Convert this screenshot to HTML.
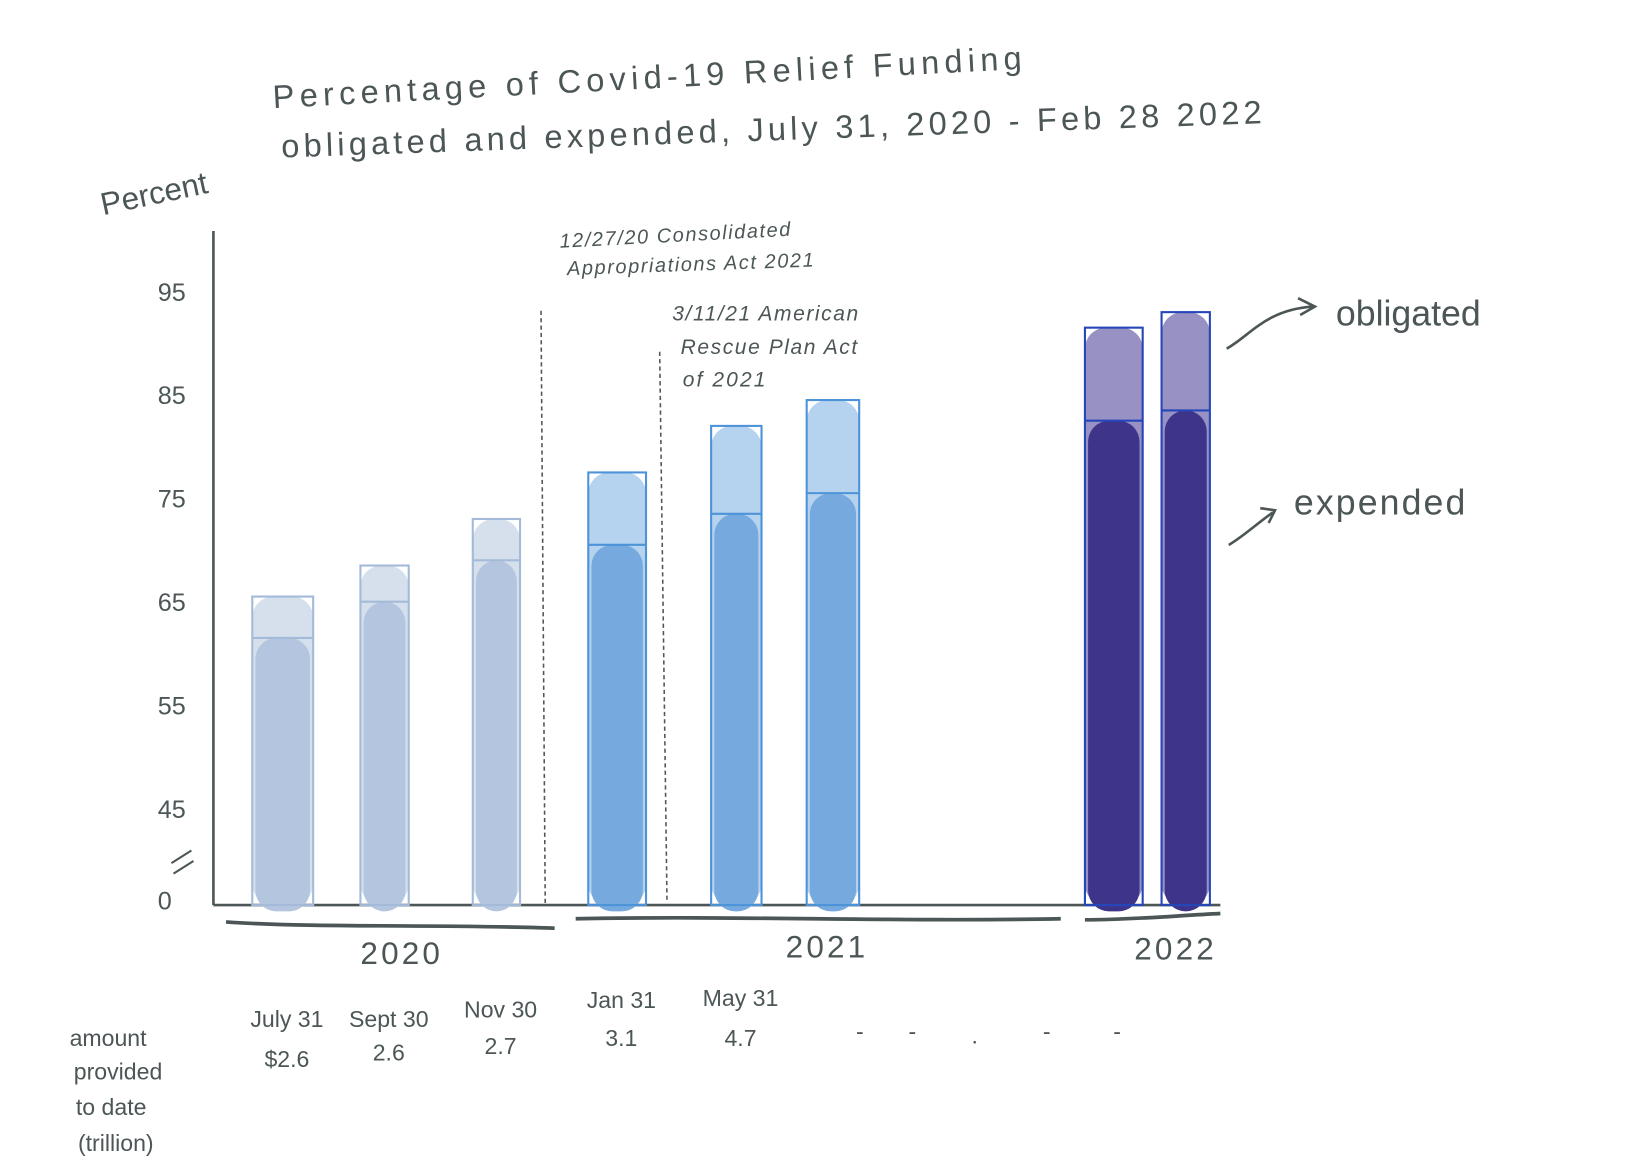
<!DOCTYPE html>
<html><head><meta charset="utf-8"><style>
html,body{margin:0;padding:0;background:#fff;}
svg{display:block;}
text{font-family:"Liberation Sans",sans-serif;fill:#4c5656;}
</style></head><body>
<svg id="chart" width="1648" height="1176" viewBox="0 0 1569 1120" xmlns="http://www.w3.org/2000/svg">
<g>
<text x="260" y="103" font-size="31" transform="rotate(-3 260 103)" letter-spacing="5">Percentage of Covid-19 Relief Funding</text>
<text x="268" y="150" font-size="31" transform="rotate(-2 268 150)" letter-spacing="4">obligated and expended, July 31, 2020 - Feb 28 2022</text>
</g>
<text x="98" y="205" font-size="30" transform="rotate(-12 98 205)">Percent</text>
<g id="yaxis"></g>
<g id="bars"></g>
<g>
<line x1="515" y1="296" x2="519" y2="860" stroke="#555" stroke-width="1.5" stroke-dasharray="4,3"/>
<line x1="628" y1="335" x2="635" y2="860" stroke="#555" stroke-width="1.5" stroke-dasharray="4,3"/>
<text x="533" y="236" font-size="19" transform="rotate(-3 533 236)" font-style="italic" letter-spacing="1.5">12/27/20 Consolidated</text>
<text x="540" y="262" font-size="19" transform="rotate(-2 540 262)" font-style="italic" letter-spacing="1.5">Appropriations Act  2021</text>
<text x="640" y="305" font-size="20" font-style="italic" letter-spacing="1.5">3/11/21 American</text>
<text x="648" y="337" font-size="20" font-style="italic" letter-spacing="1.5">Rescue Plan Act</text>
<text x="650" y="368" font-size="20" font-style="italic" letter-spacing="2">of 2021</text>
<path d="M1168,332 C1190,320 1205,295 1250,292" fill="none" stroke="#4c5656" stroke-width="2.5"/>
<path d="M1236,284 L1252,292 L1238,300" fill="none" stroke="#4c5656" stroke-width="2.5"/>
<text x="1272" y="310" font-size="34">obligated</text>
<path d="M1170,519 C1185,510 1195,500 1212,488" fill="none" stroke="#4c5656" stroke-width="2.5"/>
<path d="M1200,484 L1214,486 L1208,498" fill="none" stroke="#4c5656" stroke-width="2.5"/>
<text x="1232" y="490" font-size="34" letter-spacing="2">expended</text>
</g>
<g>
<path d="M215,878 C300,884 420,880 528,884" stroke="#4c5656" stroke-width="3.5" fill="none"/>
<path d="M548,875 C700,872 850,878 1010,875" stroke="#4c5656" stroke-width="3.5" fill="none"/>
<path d="M1033,876 C1080,876 1120,872 1162,870" stroke="#4c5656" stroke-width="3.5" fill="none"/>
<text x="343" y="918" font-size="30" letter-spacing="3">2020</text>
<text x="748" y="912" font-size="30" letter-spacing="3">2021</text>
<text x="1080" y="914" font-size="30" letter-spacing="3">2022</text>
</g>
<g id="amounts">
<text x="66" y="996" font-size="22">amount</text>
<text x="70" y="1028" font-size="22">provided</text>
<text x="72" y="1062" font-size="22">to date</text>
<text x="74" y="1096" font-size="22">(trillion)</text>
<text x="815" y="990" font-size="22">-</text>
<text x="865" y="990" font-size="22">-</text>
<text x="925" y="994" font-size="22">.</text>
<text x="993" y="990" font-size="22">-</text>
<text x="1060" y="990" font-size="22">-</text>
</g>
<script>
const categories=["July 31","Sept 30","Nov 30","Jan 31","May 31","","",""];
const amounts=["$2.6","2.6","2.7","3.1","4.7","","",""];
const obligated=[66,69,73.5,78,82.5,85,92,93.5];
const expended=[62,65.5,69.5,71,74,76,83,84];
const yTicks=[0,45,55,65,75,85,95];
const NS="http://www.w3.org/2000/svg";
const X0=[240,343,450,560,677,768,1033,1106], W=[58,46,45,55,48,50,55,46];
const groups=[0,0,0,1,1,1,2,2];
const pal=[{exp:"#b4c6df",obl:"#d6e0ec",line:"#a3bad8"},{exp:"#76aade",obl:"#b5d2ee",line:"#4d93d9"},{exp:"#3e358b",obl:"#9891c4",line:"#2546b8"}];
function y(v){return v<=0?862:775-(v-45)*9.85;}
function mk(tag,attrs,parent){const e=document.createElementNS(NS,tag);for(const k in attrs)e.setAttribute(k,attrs[k]);parent.appendChild(e);return e;}
const ya=document.getElementById('yaxis');
mk('line',{x1:203,y1:220,x2:203,y2:862,stroke:'#4c5656','stroke-width':2.5},ya);
mk('line',{x1:203,y1:862,x2:1162,y2:862,stroke:'#4c5656','stroke-width':2.5},ya);
mk('path',{d:'M163,822 L182,810 M165,832 L184,820',stroke:'#4c5656','stroke-width':2,fill:'none'},ya);
yTicks.forEach(t=>{const tx=mk('text',{x:150,y:y(t)+4,'font-size':24},ya);tx.textContent=t;

});
const bg=document.getElementById('bars');
obligated.forEach((o,i)=>{const p=pal[groups[i]],x=X0[i],w=W[i];
const g=mk('g',{},bg);


const r1=mk('rect',{x:x,y:y(o),width:w,height:y(0)-y(o),fill:p.obl,rx:Math.min(w/2,20)},g);


const r2=mk('rect',{x:x+3,y:y(expended[i]),width:w-6,height:y(0)-y(expended[i])+6,fill:p.exp,rx:Math.min(w/2,20)},g);


mk('rect',{x:x,y:y(o),width:w,height:y(0)-y(o),fill:'none',stroke:p.line,'stroke-width':2},g);
mk('line',{x1:x,y1:y(expended[i]),x2:x+w,y2:y(expended[i]),stroke:p.line,'stroke-width':2},g);
});
const am=document.getElementById('amounts');
categories.forEach((c,i)=>{if(!c)return;const cx=X0[i]+W[i]/2+4;
const t1=mk('text',{x:cx,y:[978,978,969,960,958][i],'font-size':22,'text-anchor':'middle'},am);t1.textContent=c;


const t2=mk('text',{x:cx,y:[1016,1010,1004,996,996][i],'font-size':22,'text-anchor':'middle'},am);t2.textContent=amounts[i];

});
</script>
</svg>
</body></html>
